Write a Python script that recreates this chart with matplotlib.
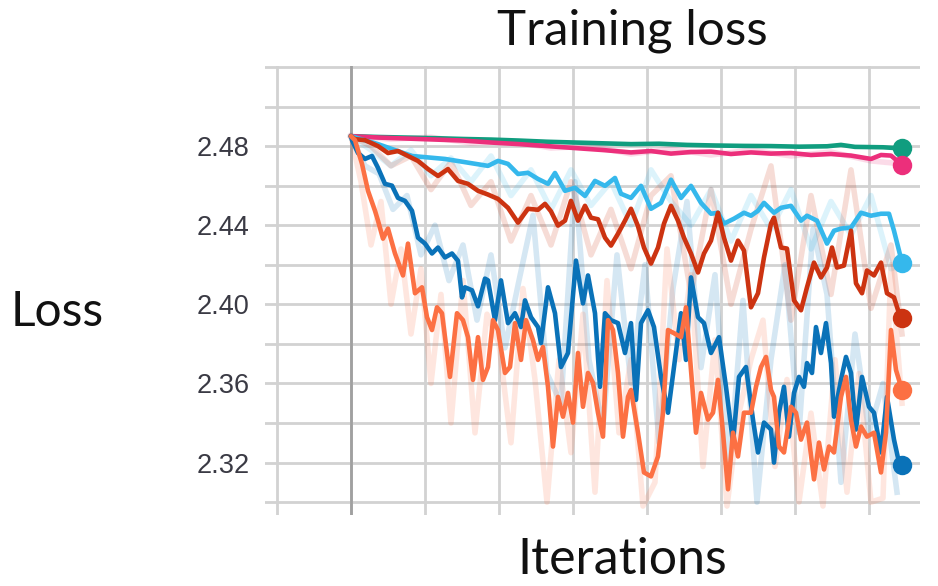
import matplotlib.pyplot as plt
import numpy as np

# smoothed curves: step (from start of run) and loss
GREEN_STEPS = [0, 28, 56, 84, 112, 140, 168, 196, 224, 252, 280, 308, 336, 364,
               392, 420, 448, 476, 490, 504, 532, 551]
GREEN_LOSS = [2.4850, 2.4846, 2.4843, 2.4840, 2.4836, 2.4833, 2.4828, 2.4822,
              2.4818, 2.4814, 2.4810, 2.4812, 2.4806, 2.4803, 2.4801, 2.4800,
              2.4797, 2.4799, 2.4806, 2.4796, 2.4794, 2.4788]

PINK_STEPS = [0, 28, 56, 84, 112, 140, 168, 196, 224, 252, 280, 300, 320, 340,
              360, 380, 400, 420, 440, 460, 480, 500, 520, 530, 540, 551]
PINK_LOSS = [2.4850, 2.4843, 2.4838, 2.4833, 2.4828, 2.4818, 2.4810, 2.4800,
             2.4790, 2.4780, 2.4768, 2.4775, 2.4762, 2.4770, 2.4772, 2.4760,
             2.4768, 2.4762, 2.4765, 2.4755, 2.4760, 2.4752, 2.4735, 2.4755,
             2.4752, 2.4705]

CYAN_STEPS = [0, 27, 61, 94, 137, 147, 157, 167, 177, 187, 197, 204, 214, 224,
              234, 244, 254, 264, 270, 280, 290, 300, 310, 320, 330, 340, 350,
              360, 367, 373, 383, 393, 400, 407, 413, 423, 430, 440, 450, 456,
              466, 476, 483, 490, 500, 510, 520, 530, 538, 543, 548, 551]
CYAN_LOSS = [2.4850, 2.4810, 2.4750, 2.4735, 2.4700, 2.4725, 2.4710, 2.4659,
             2.4665, 2.4634, 2.4609, 2.4664, 2.4574, 2.4589, 2.4548, 2.4624,
             2.4599, 2.4639, 2.4559, 2.4538, 2.4599, 2.4483, 2.4513, 2.4630,
             2.4538, 2.4599, 2.4513, 2.4458, 2.4463, 2.4408, 2.4433, 2.4463,
             2.4448, 2.4473, 2.4513, 2.4463, 2.4488, 2.4498, 2.4423, 2.4448,
             2.4423, 2.4307, 2.4372, 2.4383, 2.4388, 2.4463, 2.4448, 2.4458,
             2.4458, 2.4372, 2.4272, 2.4211]

RED_STEPS = [0, 4, 14, 27, 37, 47, 57, 67, 77, 87, 97, 107, 117, 127, 137, 147,
             157, 167, 177, 187, 194, 200, 207, 214, 220, 227, 234, 240, 247,
             254, 260, 267, 274, 280, 287, 293, 300, 307, 313, 320, 327, 333,
             340, 347, 353, 360, 367, 373, 380, 387, 393, 400, 407, 413, 420,
             423, 430, 436, 443, 450, 456, 463, 470, 476, 481, 486, 493, 500,
             505, 511, 516, 523, 530, 536, 543, 548, 551]
RED_LOSS = [2.4850, 2.4835, 2.4830, 2.4800, 2.4765, 2.4775, 2.4750, 2.4725,
            2.4684, 2.4649, 2.4684, 2.4624, 2.4609, 2.4574, 2.4555, 2.4533,
            2.4488, 2.4413, 2.4483, 2.4478, 2.4508, 2.4470, 2.4398, 2.4423,
            2.4523, 2.4423, 2.4498, 2.4438, 2.4430, 2.4337, 2.4297, 2.4357,
            2.4423, 2.4483, 2.4395, 2.4287, 2.4206, 2.4287, 2.4408, 2.4498,
            2.4423, 2.4337, 2.4257, 2.4161, 2.4257, 2.4322, 2.4463, 2.4337,
            2.4221, 2.4322, 2.4272, 2.3985, 2.4056, 2.4237, 2.4408, 2.4438,
            2.4287, 2.4282, 2.4020, 2.3970, 2.4086, 2.4211, 2.4136, 2.4186,
            2.4287, 2.4186, 2.4196, 2.4372, 2.4106, 2.4056, 2.4171, 2.4146,
            2.4211, 2.4056, 2.4035, 2.3955, 2.3930]

BLUE_STEPS = [0, 1, 7, 14, 21, 27, 34, 41, 47, 54, 61, 67, 74, 81, 87, 94, 101,
              107, 111, 114, 121, 127, 134, 137, 144, 150, 157, 164, 170, 174,
              180, 187, 190, 197, 204, 210, 217, 225, 232, 237, 244, 249, 254,
              260, 267, 274, 280, 285, 290, 297, 303, 310, 317, 323, 330, 335,
              340, 347, 353, 360, 368, 375, 382, 388, 395, 402, 407, 413, 420,
              423, 428, 433, 438, 443, 448, 453, 456, 461, 465, 470, 475, 480,
              483, 490, 495, 500, 505, 511, 518, 523, 530, 536, 543, 548, 551]
BLUE_LOSS = [2.4850, 2.4830, 2.4765, 2.4735, 2.4750, 2.4690, 2.4609, 2.4600,
             2.4538, 2.4523, 2.4473, 2.4337, 2.4307, 2.4257, 2.4287, 2.4237,
             2.4257, 2.4220, 2.4035, 2.4086, 2.4071, 2.3990, 2.4130, 2.4121,
             2.3920, 2.4121, 2.3905, 2.3955, 2.3885, 2.4020, 2.3935, 2.3885,
             2.3804, 2.4086, 2.3955, 2.3683, 2.3754, 2.4221, 2.4005, 2.4146,
             2.3955, 2.3583, 2.3955, 2.3920, 2.3905, 2.3754, 2.3905, 2.3517,
             2.3905, 2.3970, 2.3885, 2.3633, 2.3452, 2.3683, 2.3955, 2.3719,
             2.4136, 2.3935, 2.3905, 2.3754, 2.3834, 2.3583, 2.3301, 2.3633,
             2.3683, 2.3417, 2.3251, 2.3402, 2.3367, 2.3200, 2.3452, 2.3583,
             2.3331, 2.3552, 2.3633, 2.3583, 2.3703, 2.3653, 2.3885, 2.3754,
             2.3905, 2.3703, 2.3432, 2.3618, 2.3734, 2.3653, 2.3367, 2.3633,
             2.3482, 2.3452, 2.3251, 2.3532, 2.3316, 2.3200, 2.3190]

ORANGE_STEPS = [0, 4, 11, 17, 24, 27, 32, 37, 44, 52, 57, 64, 71, 76, 81, 86,
                91, 99, 106, 112, 117, 122, 127, 132, 137, 142, 147, 154, 159,
                164, 170, 175, 182, 187, 192, 197, 202, 207, 212, 217, 222, 227,
                232, 237, 242, 247, 252, 257, 262, 267, 272, 277, 280, 287, 293,
                300, 307, 312, 317, 323, 330, 335, 340, 345, 350, 357, 362, 367,
                372, 377, 382, 387, 393, 400, 405, 410, 415, 420, 423, 428, 433,
                440, 445, 450, 456, 463, 468, 473, 478, 483, 490, 495, 500, 505,
                510, 516, 523, 530, 535, 540, 545, 551]
ORANGE_LOSS = [2.4850, 2.4830, 2.4710, 2.4574, 2.4473, 2.4423, 2.4332, 2.4383,
               2.4257, 2.4146, 2.4307, 2.4056, 2.4086, 2.3935, 2.3870, 2.3985,
               2.3955, 2.3633, 2.3955, 2.3920, 2.3834, 2.3618, 2.3834, 2.3618,
               2.3683, 2.3920, 2.3870, 2.3653, 2.3683, 2.3905, 2.3719, 2.3920,
               2.3819, 2.3719, 2.3784, 2.3583, 2.3281, 2.3532, 2.3432, 2.3552,
               2.3402, 2.3754, 2.3482, 2.3653, 2.3603, 2.3452, 2.3331, 2.3920,
               2.3870, 2.3653, 2.3331, 2.3532, 2.3567, 2.3351, 2.3150, 2.3130,
               2.3231, 2.3452, 2.3870, 2.3854, 2.3834, 2.3985, 2.3668, 2.3351,
               2.3552, 2.3417, 2.3452, 2.3618, 2.3351, 2.3065, 2.3351, 2.3231,
               2.3452, 2.3452, 2.3583, 2.3683, 2.3734, 2.3567, 2.3532, 2.3281,
               2.3251, 2.3482, 2.3452, 2.3316, 2.3402, 2.3115, 2.3301, 2.3165,
               2.3281, 2.3251, 2.3532, 2.3633, 2.3417, 2.3281, 2.3382, 2.3331,
               2.3351, 2.3150, 2.3351, 2.3870, 2.3668, 2.3567]

# raw (unsmoothed) curves, drawn faint behind the smoothed ones
RAW_BLUE_STEPS = [0, 14, 28, 42, 56, 70, 84, 98, 112, 126, 140, 154, 168, 182,
                  196, 210, 224, 238, 252, 266, 280, 294, 308, 322, 336, 350,
                  364, 378, 392, 406, 420, 434, 448, 462, 476, 490, 504, 518,
                  532, 546]
RAW_BLUE_LOSS = [2.485, 2.470, 2.466, 2.448, 2.455, 2.425, 2.440, 2.412, 2.430,
                 2.392, 2.425, 2.378, 2.412, 2.445, 2.365, 2.350, 2.462, 2.372,
                 2.338, 2.425, 2.360, 2.420, 2.330, 2.408, 2.452, 2.368, 2.415,
                 2.315, 2.402, 2.300, 2.372, 2.420, 2.335, 2.438, 2.405, 2.310,
                 2.385, 2.335, 2.360, 2.305]

RAW_ORANGE_STEPS = [0, 10, 20, 30, 40, 50, 60, 70, 80, 90, 100, 112, 124, 136,
                    148, 160, 172, 184, 196, 208, 220, 232, 244, 256, 268, 280,
                    292, 304, 316, 328, 340, 352, 364, 376, 388, 400, 412, 424,
                    436, 448, 460, 472, 484, 496, 508, 520, 532, 540, 551]
RAW_ORANGE_LOSS = [2.485, 2.462, 2.430, 2.452, 2.400, 2.428, 2.385, 2.418,
                   2.360, 2.405, 2.340, 2.412, 2.335, 2.395, 2.380, 2.330,
                   2.408, 2.362, 2.300, 2.372, 2.325, 2.395, 2.305, 2.412,
                   2.335, 2.372, 2.298, 2.310, 2.428, 2.372, 2.415, 2.318,
                   2.382, 2.298, 2.345, 2.372, 2.392, 2.318, 2.362, 2.300,
                   2.345, 2.298, 2.372, 2.305, 2.365, 2.300, 2.302, 2.420,
                   2.350]

RAW_RED_STEPS = [0, 20, 40, 60, 80, 100, 120, 140, 160, 180, 200, 220, 240,
                 260, 280, 300, 320, 340, 360, 380, 400, 420, 440, 460, 480,
                 500, 520, 540, 551]
RAW_RED_LOSS = [2.485, 2.480, 2.470, 2.475, 2.458, 2.472, 2.450, 2.462, 2.432,
                2.455, 2.430, 2.462, 2.425, 2.448, 2.418, 2.455, 2.465, 2.405,
                2.458, 2.400, 2.438, 2.470, 2.392, 2.455, 2.405, 2.468, 2.398,
                2.430, 2.385]

RAW_CYAN_STEPS = [0, 20, 40, 60, 80, 100, 120, 140, 160, 180, 200, 220, 240,
                  260, 280, 300, 320, 340, 360, 380, 400, 420, 440, 460, 480,
                  500, 520, 540, 551]
RAW_CYAN_LOSS = [2.485, 2.478, 2.470, 2.478, 2.465, 2.474, 2.462, 2.475, 2.455,
                 2.468, 2.448, 2.468, 2.450, 2.462, 2.440, 2.468, 2.452, 2.440,
                 2.458, 2.432, 2.455, 2.438, 2.458, 2.428, 2.452, 2.435, 2.455,
                 2.418, 2.420]

RAW_PINK_STEPS = [0, 40, 80, 120, 160, 200, 240, 280, 320, 360, 400, 440, 480,
                  520, 551]
RAW_PINK_LOSS = [2.485, 2.4835, 2.4845, 2.4815, 2.4825, 2.4790, 2.4800, 2.4760,
                 2.4785, 2.4755, 2.4780, 2.4750, 2.4770, 2.4725, 2.4710]

COL_GREEN = "#109d7f"
COL_PINK = "#ec2f7b"
COL_CYAN = "#35b8ec"
COL_RED = "#cc3311"
COL_BLUE = "#0a72b8"
COL_ORANGE = "#fc7043"
COL_GRID = "#d2d2d2"
COL_TEXT = "#3a3a44"

GRID_STEP = 74


def main() -> None:
    fig = plt.figure(figsize=(9.38, 5.86), dpi=100)
    ax = fig.add_axes([0.2825, 0.1212, 0.6983, 0.7662])

    raw = [
        (RAW_CYAN_STEPS, RAW_CYAN_LOSS, COL_CYAN),
        (RAW_RED_STEPS, RAW_RED_LOSS, COL_RED),
        (RAW_PINK_STEPS, RAW_PINK_LOSS, COL_PINK),
        (RAW_BLUE_STEPS, RAW_BLUE_LOSS, COL_BLUE),
        (RAW_ORANGE_STEPS, RAW_ORANGE_LOSS, COL_ORANGE),
    ]
    for steps, loss, color in raw:
        ax.plot(steps, loss, color=color, lw=4.0, alpha=0.17,
                solid_joinstyle="round", zorder=2)

    smooth = [
        (GREEN_STEPS, GREEN_LOSS, COL_GREEN),
        (PINK_STEPS, PINK_LOSS, COL_PINK),
        (CYAN_STEPS, CYAN_LOSS, COL_CYAN),
        (RED_STEPS, RED_LOSS, COL_RED),
        (BLUE_STEPS, BLUE_LOSS, COL_BLUE),
        (ORANGE_STEPS, ORANGE_LOSS, COL_ORANGE),
    ]
    for steps, loss, color in smooth:
        ax.plot(steps, loss, color=color, lw=3.3, solid_joinstyle="round",
                solid_capstyle="round", zorder=3)
        ax.plot(steps[-1], loss[-1], "o", color=color, ms=14, mec="none",
                zorder=4)

    ax.set_xlim(-86, 569)
    ax.set_ylim(2.2935, 2.5205)

    yt = [2.30 + 0.02 * i for i in range(12)]
    labels = [f"{v:.2f}" if (round(v * 100) % 4 == 0 and v < 2.49) else ""
              for v in yt]
    ax.set_yticks(yt)
    ax.set_yticklabels(labels, fontsize=19.5, color=COL_TEXT,
                       family="Liberation Sans")
    ax.set_xticks(np.arange(-GRID_STEP, 569, GRID_STEP))
    ax.tick_params(axis="both", length=0, labelbottom=False)
    ax.tick_params(axis="y", pad=11)
    ax.grid(True, color=COL_GRID, lw=2.0)
    ax.set_axisbelow(True)
    ax.axvline(0, color="#a0a0a0", lw=2.0, zorder=1)
    for spine in ax.spines.values():
        spine.set_visible(False)

    fig.text(0.674, 0.948, "Training loss", ha="center", va="center",
             fontsize=35.5, family="Lato", color="#111111")
    fig.text(0.061, 0.468, "Loss", ha="center", va="center",
             fontsize=34.5, family="Lato", color="#111111")
    fig.text(0.663, 0.044, "Iterations", ha="center", va="center",
             fontsize=36, family="Lato", color="#111111")

    fig.savefig("out.png", dpi=100)
    plt.close(fig)


if __name__ == "__main__":
    main()
